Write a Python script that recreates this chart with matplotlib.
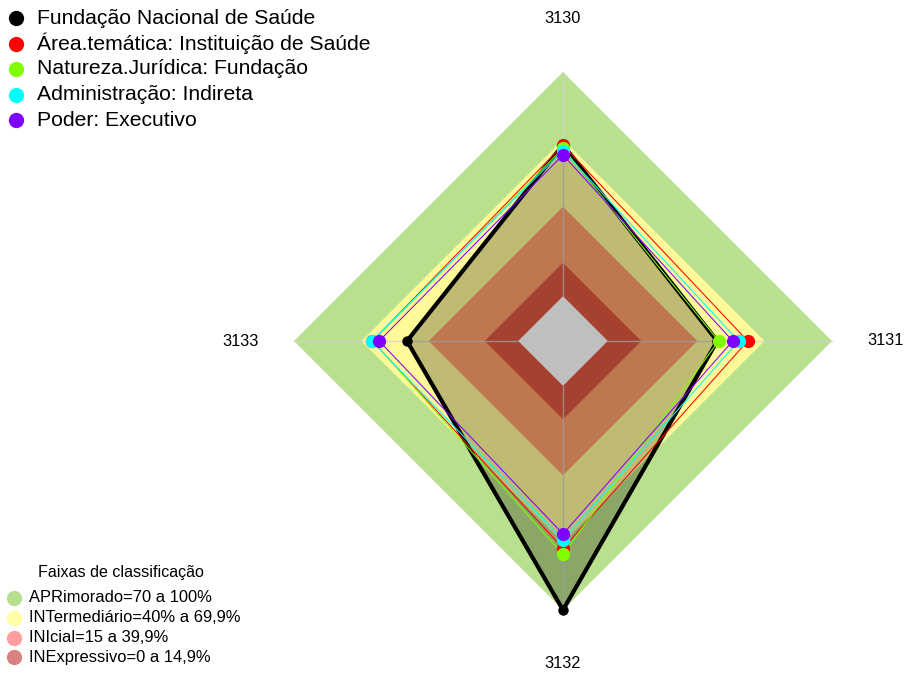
import numpy as np
import matplotlib
matplotlib.use("Agg")
import matplotlib.pyplot as plt
from matplotlib.patches import Polygon
from matplotlib.lines import Line2D

plt.rcParams['font.family'] = ['Liberation Sans', 'DejaVu Sans']

# ---------------- data ----------------
categories = ["3130", "3131", "3132", "3133"]
series_names = ["Fundação Nacional de Saúde",
                "Área.temática: Instituição de Saúde",
                "Natureza.Jurídica: Fundação",
                "Administração: Indireta",
                "Poder: Executivo"]
fundacao = [67.5, 48.8, 100.0, 49.6]
area_tematica = [67.4, 62.4, 72.5, 65.0]
natureza_juridica = [66.0, 49.4, 75.2, 64.8]
administracao = [64.9, 58.3, 68.8, 65.2]
poder = [63.0, 55.7, 66.1, 62.0]
series_colors = ["#000000", "#FF0000", "#7FFF00", "#00FFFF", "#8000FF"]

legend_title = "Faixas de classificação"
band_names = ["APRimorado=70 a 100%", "INTermediário=40% a 69,9%",
              "INIcial=15 a 39,9%", "INExpressivo=0 a 14,9%"]
band_upper = [100, 69.9, 39.9, 14.9]
band_fill = ["#B9E08C", "#FFFA99", "#FFA06B", "#E0583F"]
band_legend_colors = ["#B5DE8D", "#FFFFA3", "#FF9E9E", "#D98080"]

VMIN, VMAX, NSEG = 0, 100, 5


def radius(v):
    v = np.asarray(v, float)
    return (1 + NSEG * (v - VMIN) / (VMAX - VMIN)) / (NSEG + 1)


n = len(categories)
theta = np.pi / 2 - 2 * np.pi * np.arange(n) / n


def xy(values):
    r = radius(values)
    return r * np.cos(theta), r * np.sin(theta)


W, H = 905, 675
fig = plt.figure(figsize=(W / 100, H / 100), dpi=100)
ax = fig.add_axes([0, 0, 1, 1])
cx, cy, R = 563, 334, 269
ax.set_xlim(-cx / R, (W - cx) / R)
ax.set_ylim(-cy / R, (H - cy) / R)
ax.axis('off')

# classification bands
for up, col in zip(band_upper, band_fill):
    x, y = xy([up] * n)
    ax.add_patch(Polygon(np.column_stack([x, y]), closed=True,
                         facecolor=col, edgecolor='none', zorder=1))
x, y = xy([VMIN] * n)
ax.add_patch(Polygon(np.column_stack([x, y]), closed=True,
                     facecolor='white', edgecolor='none', zorder=1))

# axis lines
r_in, r_out = radius(VMIN), radius(VMAX)
for t in theta:
    ax.plot([r_in * np.cos(t), r_out * np.cos(t)],
            [r_in * np.sin(t), r_out * np.sin(t)],
            color='#D0D0D0', lw=1.0, alpha=0.8, zorder=2)

# axis labels
for lab, t in zip(categories, theta):
    ax.text(1.2 * np.cos(t), 1.2 * np.sin(t), lab, ha='center', va='center',
            fontsize=11.8, color='black', zorder=5)

# series
all_series = [fundacao, area_tematica, natureza_juridica, administracao, poder]
for i, (vals, col) in enumerate(zip(all_series, series_colors)):
    x, y = xy(vals)
    xc, yc = np.append(x, x[0]), np.append(y, y[0])
    if i == 0:
        ax.add_patch(Polygon(np.column_stack([x, y]), closed=True,
                             facecolor=(0, 0, 0, 0.25), edgecolor='none', zorder=3))
        ax.plot(xc, yc, color=col, lw=3.0, zorder=4, solid_joinstyle='miter')
        ax.plot(x, y, 'o', color=col, ms=7.5, zorder=4.5, mew=0)
    else:
        ax.plot(xc, yc, color=col, lw=0.75, zorder=4 + i * 0.1)
        ax.plot(x, y, 'o', color=col, ms=9.5, zorder=4.55 + i * 0.1, mew=0)

# top legend (series)
for i, (name, col) in enumerate(zip(series_names, series_colors)):
    ypx = 18 + 25.5 * i
    fig.add_artist(Line2D([16 / W], [1 - ypx / H], transform=fig.transFigure,
                          marker='o', color=col, ms=11, mew=0, linestyle='none'))
    fig.text(37 / W, 1 - ypx / H, name, ha='left', va='center', fontsize=15.2)

# bottom legend (bands)
fig.text(121 / W, 1 - 572 / H, legend_title, ha='center', va='center', fontsize=11.6)
for i, (name, col) in enumerate(zip(band_names, band_legend_colors)):
    ypx = 597.7 + 19.9 * i
    fig.add_artist(Line2D([14 / W], [1 - ypx / H], transform=fig.transFigure,
                          marker='o', color=col, ms=11, mew=0, linestyle='none'))
    fig.text(29 / W, 1 - ypx / H, name, ha='left', va='center', fontsize=11.9)

fig.savefig("out.png", dpi=100)
